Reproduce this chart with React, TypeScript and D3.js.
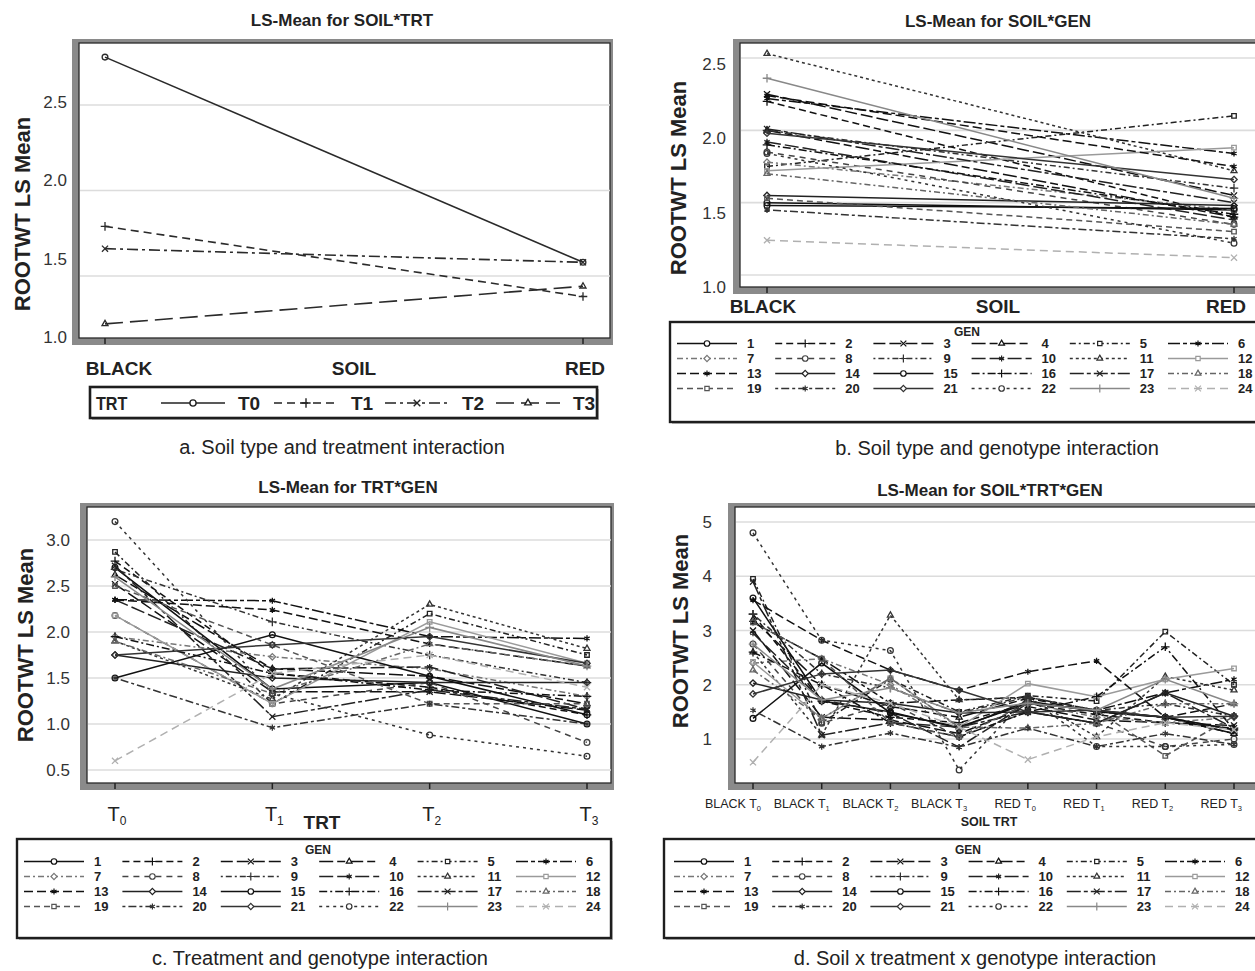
import React from "react";
import * as d3 from "d3";

// ---------------- DATA ----------------
const soilLevels = ["BLACK", "RED"];
const trtLevels = ["T0", "T1", "T2", "T3"];
const soilTrtLevels = ["BLACK T0", "BLACK T1", "BLACK T2", "BLACK T3", "RED T0", "RED T1", "RED T2", "RED T3"];
const genLabels = ["1", "2", "3", "4", "5", "6", "7", "8", "9", "10", "11", "12", "13", "14", "15", "16", "17", "18", "19", "20", "21", "22", "23", "24"];

// Panel a: SOIL*TRT (one value per treatment)
const trtBlack = [2.78, 1.79, 1.66, 1.22];
const trtRed = [1.58, 1.38, 1.58, 1.44];
const ticksA = [1.0, 1.5, 2.0, 2.5];
const gridA = [1.5, 2.0, 2.5];

// Panel b: SOIL*GEN (one value per genotype)
const soilBlack = [1.50, 2.20, 2.25, 2.00, 1.75, 2.22, 1.78, 1.85, 2.00, 1.92, 2.53, 1.72, 2.24, 1.55, 1.48, 1.90, 2.01, 1.70, 1.53, 1.45, 1.98, 1.84, 2.36, 1.24];
const soilRed = [1.45, 1.40, 1.55, 1.40, 2.10, 1.84, 1.45, 1.35, 1.60, 1.38, 1.72, 1.88, 1.75, 1.48, 1.46, 1.42, 1.50, 1.35, 1.30, 1.25, 1.66, 1.22, 1.53, 1.12];
const ticksB = [1.0, 1.5, 2.0, 2.5];

// Panel c: TRT*GEN
const trtT0 = [2.70, 2.77, 2.52, 2.62, 2.87, 2.35, 1.95, 2.18, 2.68, 2.35, 1.90, 2.18, 2.35, 1.75, 1.50, 1.95, 2.72, 1.90, 2.50, 1.50, 1.75, 3.20, 2.60, 0.60];
const trtT1 = [1.38, 1.55, 1.35, 1.60, 1.22, 2.34, 1.73, 1.22, 2.11, 1.60, 1.27, 1.22, 2.24, 1.50, 1.97, 1.55, 1.08, 1.33, 1.86, 0.96, 1.86, 1.33, 1.38, 1.55];
const trtT2 = [1.45, 1.40, 1.35, 1.52, 2.20, 1.95, 1.60, 1.45, 1.75, 1.62, 2.30, 2.11, 1.87, 1.45, 1.52, 1.37, 1.37, 1.87, 1.22, 1.22, 1.95, 0.88, 2.05, 1.75];
const trtT3 = [1.00, 1.10, 1.15, 1.22, 1.75, 1.93, 1.30, 0.80, 1.45, 1.16, 1.82, 1.66, 1.63, 1.45, 1.10, 1.30, 1.16, 1.63, 1.22, 1.00, 1.66, 0.65, 1.63, 1.40];
const ticksC = [0.5, 1.0, 1.5, 2.0, 2.5, 3.0];

// Panel d: SOIL*TRT*GEN
const bT0 = [3.60, 3.30, 3.00, 3.20, 3.95, 3.15, 2.40, 2.75, 3.30, 2.95, 2.60, 2.42, 3.56, 2.03, 1.38, 2.60, 3.90, 2.27, 3.15, 1.53, 1.83, 4.80, 2.75, 0.57];
const bT1 = [1.70, 1.70, 1.40, 2.00, 1.30, 2.48, 2.48, 1.29, 2.20, 1.72, 1.07, 1.38, 2.82, 1.72, 2.40, 2.00, 1.07, 1.38, 2.48, 0.86, 2.20, 2.82, 1.72, 2.00];
const bT2 = [1.50, 1.40, 1.35, 1.60, 2.10, 1.66, 2.00, 1.66, 1.94, 1.48, 3.28, 2.12, 2.27, 1.66, 1.48, 1.30, 1.30, 2.12, 1.30, 1.11, 2.27, 2.63, 1.94, 1.66];
const bT3 = [1.20, 1.30, 1.10, 1.40, 1.50, 1.72, 1.22, 1.04, 1.48, 0.85, 1.72, 1.22, 1.90, 1.48, 1.22, 1.04, 1.22, 1.22, 1.04, 0.85, 1.90, 0.43, 1.48, 1.22];
const rT0 = [1.70, 1.65, 1.60, 1.75, 1.80, 1.77, 1.66, 1.50, 1.77, 1.66, 1.77, 2.02, 2.24, 1.50, 1.66, 1.50, 1.50, 1.20, 1.66, 1.20, 1.50, 1.77, 1.66, 0.62];
const rT1 = [1.50, 1.45, 1.35, 1.50, 1.70, 1.53, 1.40, 1.29, 1.53, 1.53, 1.04, 1.78, 2.44, 1.29, 1.53, 1.78, 1.29, 1.29, 1.53, 0.86, 1.53, 0.86, 1.53, 1.04];
const rT2 = [1.40, 1.30, 1.30, 1.40, 2.98, 1.85, 1.30, 0.86, 1.65, 1.40, 2.15, 2.10, 1.40, 1.85, 1.40, 2.70, 1.85, 1.65, 0.69, 1.10, 1.40, 0.86, 2.10, 1.30];
const rT3 = [1.10, 1.20, 1.25, 1.10, 2.00, 2.10, 1.40, 1.00, 1.42, 1.17, 1.90, 2.30, 1.65, 1.42, 1.17, 1.17, 1.20, 1.65, 1.42, 0.90, 1.42, 0.90, 1.65, 1.17];
const ticksD = [1, 2, 3, 4, 5];

// ---------------- STYLES ----------------
const SANS = "'Liberation Sans', Arial, Helvetica, sans-serif";

const trtStyle = [
  { dash: "", sym: "circle" },
  { dash: "8,5", sym: "plus" },
  { dash: "11,4,3,4", sym: "times" },
  { dash: "18,7", sym: "triangle" },
];

const genColor = ["#111", "#111", "#111", "#111", "#222", "#111", "#777", "#444", "#333", "#222", "#333", "#9a9a9a", "#111", "#222", "#111", "#111", "#222", "#666", "#555", "#333", "#333", "#333", "#888", "#b0b0b0"];
const genDash = ["", "7,4", "12,4", "14,4,8,4", "6,3,2,3", "12,3,4,3", "6,3,2,3", "6,5", "2,3,6,3", "14,4", "3,3", "", "9,4", "", "", "8,3,2,3", "14,3,4,3", "6,3,2,3", "6,4", "3,3,8,3", "", "3,4", "", "8,5"];
const genSym = ["circle", "plus", "times", "triangle", "square", "asterisk", "diamond", "circle", "plus", "asterisk", "triangle", "square", "asterisk", "diamond", "circle", "plus", "times", "triangle", "square", "asterisk", "diamond", "circle", "plus", "times"];

const symMap: Record<string, any> = {
  circle: d3.symbolCircle,
  plus: d3.symbolPlus,
  times: d3.symbolTimes,
  triangle: d3.symbolTriangle2,
  square: d3.symbolSquare2,
  asterisk: d3.symbolAsterisk,
  diamond: d3.symbolDiamond2,
};
function markerPath(name: string, size = 26) {
  return d3.symbol().type(symMap[name]).size(size)() as string;
}

type Frame = { L: number; T: number; R: number; B: number };

function PlotFrame({ f }: { f: Frame }) {
  return (
    <g>
      <rect x={f.L - 7} y={f.T - 4} width={f.R - f.L + 10} height={f.B - f.T + 11} fill="#8a8a8a" />
      <rect x={f.L} y={f.T} width={f.R - f.L} height={f.B - f.T} fill="#fff" stroke="#2a2a2a" strokeWidth={1.3} />
    </g>
  );
}

function Grid({ f, y, values }: { f: Frame; y: (v: number) => number; values: number[] }) {
  return (
    <g>
      {values.map((v) => (
        <line key={v} x1={f.L + 1} x2={f.R} y1={y(v)} y2={y(v)} stroke="#dcdcdc" strokeWidth={1.6} />
      ))}
    </g>
  );
}

function YTickLabels({ x, y, values, fmt }: { x: number; y: (v: number) => number; values: number[]; fmt: (v: number) => string }) {
  return (
    <g>
      {values.map((v) => (
        <text key={v} x={x} y={y(v)} dy="0.36em" textAnchor="end" fontFamily={SANS} fontSize={17} fill="#333">
          {fmt(v)}
        </text>
      ))}
    </g>
  );
}

function XTicks({ f, xs }: { f: Frame; xs: number[] }) {
  return (
    <g>
      {xs.map((x, i) => (
        <line key={i} x1={x} x2={x} y1={f.B} y2={f.B + 6} stroke="#222" strokeWidth={1.5} />
      ))}
    </g>
  );
}

function YAxisTitle({ x, y }: { x: number; y: number }) {
  return (
    <text transform={`translate(${x},${y}) rotate(-90)`} textAnchor="middle" fontFamily={SANS} fontWeight="bold" fontSize={22} fill="#222">
      ROOTWT LS Mean
    </text>
  );
}

function Series({ pts, color, dash, sym, width = 1.5 }: { pts: [number, number][]; color: string; dash: string; sym: string; width?: number }) {
  const line = d3.line<[number, number]>().x((d) => d[0]).y((d) => d[1]);
  return (
    <g>
      <path d={line(pts) as string} fill="none" stroke={color} strokeWidth={width} strokeDasharray={dash || undefined} />
      {pts.map((p, i) => (
        <path key={i} d={markerPath(sym)} transform={`translate(${p[0]},${p[1]})`} fill="none" stroke={color} strokeWidth={1.3} />
      ))}
    </g>
  );
}

function GenLegend({ box, titleX, titleY, rowY, lineX0, colW }: { box: Frame; titleX: number; titleY: number; rowY: number[]; lineX0: number; colW: number }) {
  return (
    <g>
      <rect x={box.L + 2} y={box.T + 2} width={box.R - box.L} height={box.B - box.T} fill="#bdbdbd" />
      <rect x={box.L} y={box.T} width={box.R - box.L} height={box.B - box.T} fill="#fff" stroke="#1e1e1e" strokeWidth={2.4} />
      <text x={titleX} y={titleY} textAnchor="middle" fontFamily={SANS} fontWeight="bold" fontSize={12} fill="#222">
        GEN
      </text>
      {genLabels.map((g, i) => {
        const row = Math.floor(i / 6);
        const col = i % 6;
        const x0 = lineX0 + col * colW;
        const yy = rowY[row];
        const ly = yy - 4.5;
        return (
          <g key={g}>
            <line x1={x0} x2={x0 + 60} y1={ly} y2={ly} stroke={genColor[i]} strokeWidth={1.5} strokeDasharray={genDash[i] || undefined} />
            <path d={markerPath(genSym[i], 24)} transform={`translate(${x0 + 30},${ly})`} fill="#fff" stroke={genColor[i]} strokeWidth={1.2} />
            <text x={x0 + 70} y={yy} fontFamily={SANS} fontWeight="bold" fontSize={13} fill="#222">
              {g}
            </text>
          </g>
        );
      })}
    </g>
  );
}

function SubLabel({ x, y, text, size, anchor = "middle" }: { x: number; y: number; text: string; size: number; anchor?: string }) {
  const head = text.slice(0, -1);
  const sub = text.slice(-1);
  return (
    <text x={x} y={y} textAnchor={anchor as any} fontFamily={SANS} fontSize={size} fill="#222">
      {head}
      <tspan fontSize={size * 0.6} dy={size * 0.22}>
        {sub}
      </tspan>
    </text>
  );
}

// ---------------- PANELS ----------------
function PanelA() {
  const f: Frame = { L: 79, T: 43, R: 610, B: 338 };
  const x = d3.scalePoint<string>().domain(soilLevels).range([105, 583]);
  const y = d3.scaleLinear().domain([1.5, 2.5]).range([276, 105]);
  const yLab = d3.scaleLinear().domain([1.0, 2.5]).range([337, 102]);
  const series = trtLevels.map((_, i) => [trtBlack[i], trtRed[i]]);
  const legX = [161, 274, 385, 496];
  return (
    <g>
      <text x={342} y={26} textAnchor="middle" fontFamily={SANS} fontWeight="bold" fontSize={17} fill="#222">
        LS-Mean for SOIL*TRT
      </text>
      <PlotFrame f={f} />
      <Grid f={f} y={y} values={gridA} />
      <YTickLabels x={f.L - 12} y={yLab} values={ticksA} fmt={d3.format(".1f")} />
      <XTicks f={f} xs={soilLevels.map((s) => x(s) as number)} />
      {series.map((vals, i) => (
        <Series
          key={i}
          pts={vals.map((v, j) => [x(soilLevels[j]) as number, y(v)] as [number, number])}
          color="#2a2a2a"
          dash={trtStyle[i].dash}
          sym={trtStyle[i].sym}
          width={1.6}
        />
      ))}
      <YAxisTitle x={30} y={214} />
      <text x={119} y={375} textAnchor="middle" fontFamily={SANS} fontWeight="bold" fontSize={19} fill="#222">BLACK</text>
      <text x={354} y={375} textAnchor="middle" fontFamily={SANS} fontWeight="bold" fontSize={19} fill="#222">SOIL</text>
      <text x={585} y={375} textAnchor="middle" fontFamily={SANS} fontWeight="bold" fontSize={19} fill="#222">RED</text>
      {/* legend */}
      <rect x={92} y={389} width={507} height={31} fill="#bdbdbd" />
      <rect x={90} y={387} width={507} height={31} fill="#fff" stroke="#1e1e1e" strokeWidth={2.6} />
      <text x={96} y={410} fontFamily={SANS} fontWeight="bold" fontSize={19} fill="#222" transform="translate(96,0) scale(0.85,1) translate(-96,0)">TRT</text>
      {trtLevels.map((t, i) => (
        <g key={t}>
          <line x1={legX[i]} x2={legX[i] + 64} y1={403} y2={403} stroke="#222" strokeWidth={1.6} strokeDasharray={trtStyle[i].dash || undefined} />
          <path d={markerPath(trtStyle[i].sym, 30)} transform={`translate(${legX[i] + 32},403)`} fill="#fff" stroke="#222" strokeWidth={1.4} />
          <text x={legX[i] + 77} y={410} fontFamily={SANS} fontWeight="bold" fontSize={19} fill="#222">{t}</text>
        </g>
      ))}
      <text x={342} y={454} textAnchor="middle" fontFamily={SANS} fontSize={20} fill="#222">
        a. Soil type and treatment interaction
      </text>
    </g>
  );
}

function PanelB() {
  const f: Frame = { L: 740, T: 43, R: 1265, B: 287 };
  const x = d3.scalePoint<string>().domain(soilLevels).range([767, 1234]);
  const y = d3.scaleLinear().domain([1.0, 2.5]).range([275, 58]);
  const yLab = d3.scaleLinear().domain([1.0, 2.5]).range([287, 64]);
  return (
    <g>
      <text x={998} y={27} textAnchor="middle" fontFamily={SANS} fontWeight="bold" fontSize={17} fill="#222">
        LS-Mean for SOIL*GEN
      </text>
      <PlotFrame f={f} />
      <Grid f={f} y={y} values={ticksB} />
      <YTickLabels x={f.L - 14} y={yLab} values={ticksB} fmt={d3.format(".1f")} />
      <XTicks f={f} xs={soilLevels.map((s) => x(s) as number)} />
      {genLabels.map((g, i) => (
        <Series
          key={g}
          pts={[
            [x("BLACK") as number, y(soilBlack[i])],
            [x("RED") as number, y(soilRed[i])],
          ]}
          color={genColor[i]}
          dash={genDash[i]}
          sym={genSym[i]}
        />
      ))}
      <YAxisTitle x={686} y={178} />
      <text x={763} y={313} textAnchor="middle" fontFamily={SANS} fontWeight="bold" fontSize={19} fill="#222">BLACK</text>
      <text x={998} y={313} textAnchor="middle" fontFamily={SANS} fontWeight="bold" fontSize={19} fill="#222">SOIL</text>
      <text x={1226} y={313} textAnchor="middle" fontFamily={SANS} fontWeight="bold" fontSize={19} fill="#222">RED</text>
      <GenLegend box={{ L: 670, T: 322, R: 1275, B: 422 }} titleX={967} titleY={336} rowY={[348, 363, 378, 393]} lineX0={677} colW={98.2} />
      <text x={997} y={455} textAnchor="middle" fontFamily={SANS} fontSize={20} fill="#222">
        b. Soil type and genotype interaction
      </text>
    </g>
  );
}

function PanelC() {
  const f: Frame = { L: 87, T: 507, R: 611, B: 783 };
  const x = d3.scalePoint<string>().domain(trtLevels).range([115, 587]);
  const y = d3.scaleLinear().domain([0.5, 3.0]).range([770, 540]);
  const cols = [trtT0, trtT1, trtT2, trtT3];
  return (
    <g>
      <text x={348} y={493} textAnchor="middle" fontFamily={SANS} fontWeight="bold" fontSize={17} fill="#222">
        LS-Mean for TRT*GEN
      </text>
      <PlotFrame f={f} />
      <Grid f={f} y={y} values={ticksC} />
      <YTickLabels x={f.L - 17} y={y} values={ticksC} fmt={d3.format(".1f")} />
      <XTicks f={f} xs={trtLevels.map((s) => x(s) as number)} />
      {genLabels.map((g, i) => (
        <Series
          key={g}
          pts={trtLevels.map((t, j) => [x(t) as number, y(cols[j][i])] as [number, number])}
          color={genColor[i]}
          dash={genDash[i]}
          sym={genSym[i]}
        />
      ))}
      <YAxisTitle x={33} y={645} />
      {trtLevels.map((t) => (
        <SubLabel key={t} x={(x(t) as number) + 2} y={821} text={t} size={20} />
      ))}
      <text x={322} y={829} textAnchor="middle" fontFamily={SANS} fontWeight="bold" fontSize={19} fill="#222">TRT</text>
      <GenLegend box={{ L: 17, T: 839, R: 611, B: 938 }} titleX={318} titleY={854} rowY={[866, 881, 896, 911]} lineX0={24} colW={98.4} />
      <text x={320} y={965} textAnchor="middle" fontFamily={SANS} fontSize={20} fill="#222">
        c. Treatment and genotype interaction
      </text>
    </g>
  );
}

function PanelD() {
  const f: Frame = { L: 735, T: 507, R: 1265, B: 783 };
  const x = d3.scalePoint<string>().domain(soilTrtLevels).range([753, 1234]);
  const y = d3.scaleLinear().domain([1, 5]).range([739, 522]);
  const cols = [bT0, bT1, bT2, bT3, rT0, rT1, rT2, rT3];
  return (
    <g>
      <text x={990} y={496} textAnchor="middle" fontFamily={SANS} fontWeight="bold" fontSize={17} fill="#222">
        LS-Mean for SOIL*TRT*GEN
      </text>
      <PlotFrame f={f} />
      <Grid f={f} y={y} values={ticksD} />
      <YTickLabels x={f.L - 23} y={y} values={ticksD} fmt={d3.format("d")} />
      <XTicks f={f} xs={soilTrtLevels.map((s) => x(s) as number)} />
      {genLabels.map((g, i) => (
        <Series
          key={g}
          pts={soilTrtLevels.map((t, j) => [x(t) as number, y(cols[j][i])] as [number, number])}
          color={genColor[i]}
          dash={genDash[i]}
          sym={genSym[i]}
        />
      ))}
      <YAxisTitle x={688} y={631} />
      {soilTrtLevels.map((t) => (
        <SubLabel key={t} x={(x(t) as number) + 8} y={808} text={t} size={12.5} anchor="end" />
      ))}
      <text x={989} y={826} textAnchor="middle" fontFamily={SANS} fontWeight="bold" fontSize={12.5} fill="#222">SOIL TRT</text>
      <GenLegend box={{ L: 664, T: 839, R: 1275, B: 938 }} titleX={968} titleY={854} rowY={[866, 881, 896, 911]} lineX0={674} colW={98.2} />
      <text x={975} y={965} textAnchor="middle" fontFamily={SANS} fontSize={20} fill="#222">
        d. Soil x treatment x genotype interaction
      </text>
    </g>
  );
}

export default function App() {
  return (
    <svg width={1255} height={971} viewBox="0 0 1255 971" style={{ position: "absolute", left: 0, top: 0, background: "#fff" }}>
      <rect width={1255} height={971} fill="#fff" />
      <PanelA />
      <PanelB />
      <PanelC />
      <PanelD />
    </svg>
  );
}
